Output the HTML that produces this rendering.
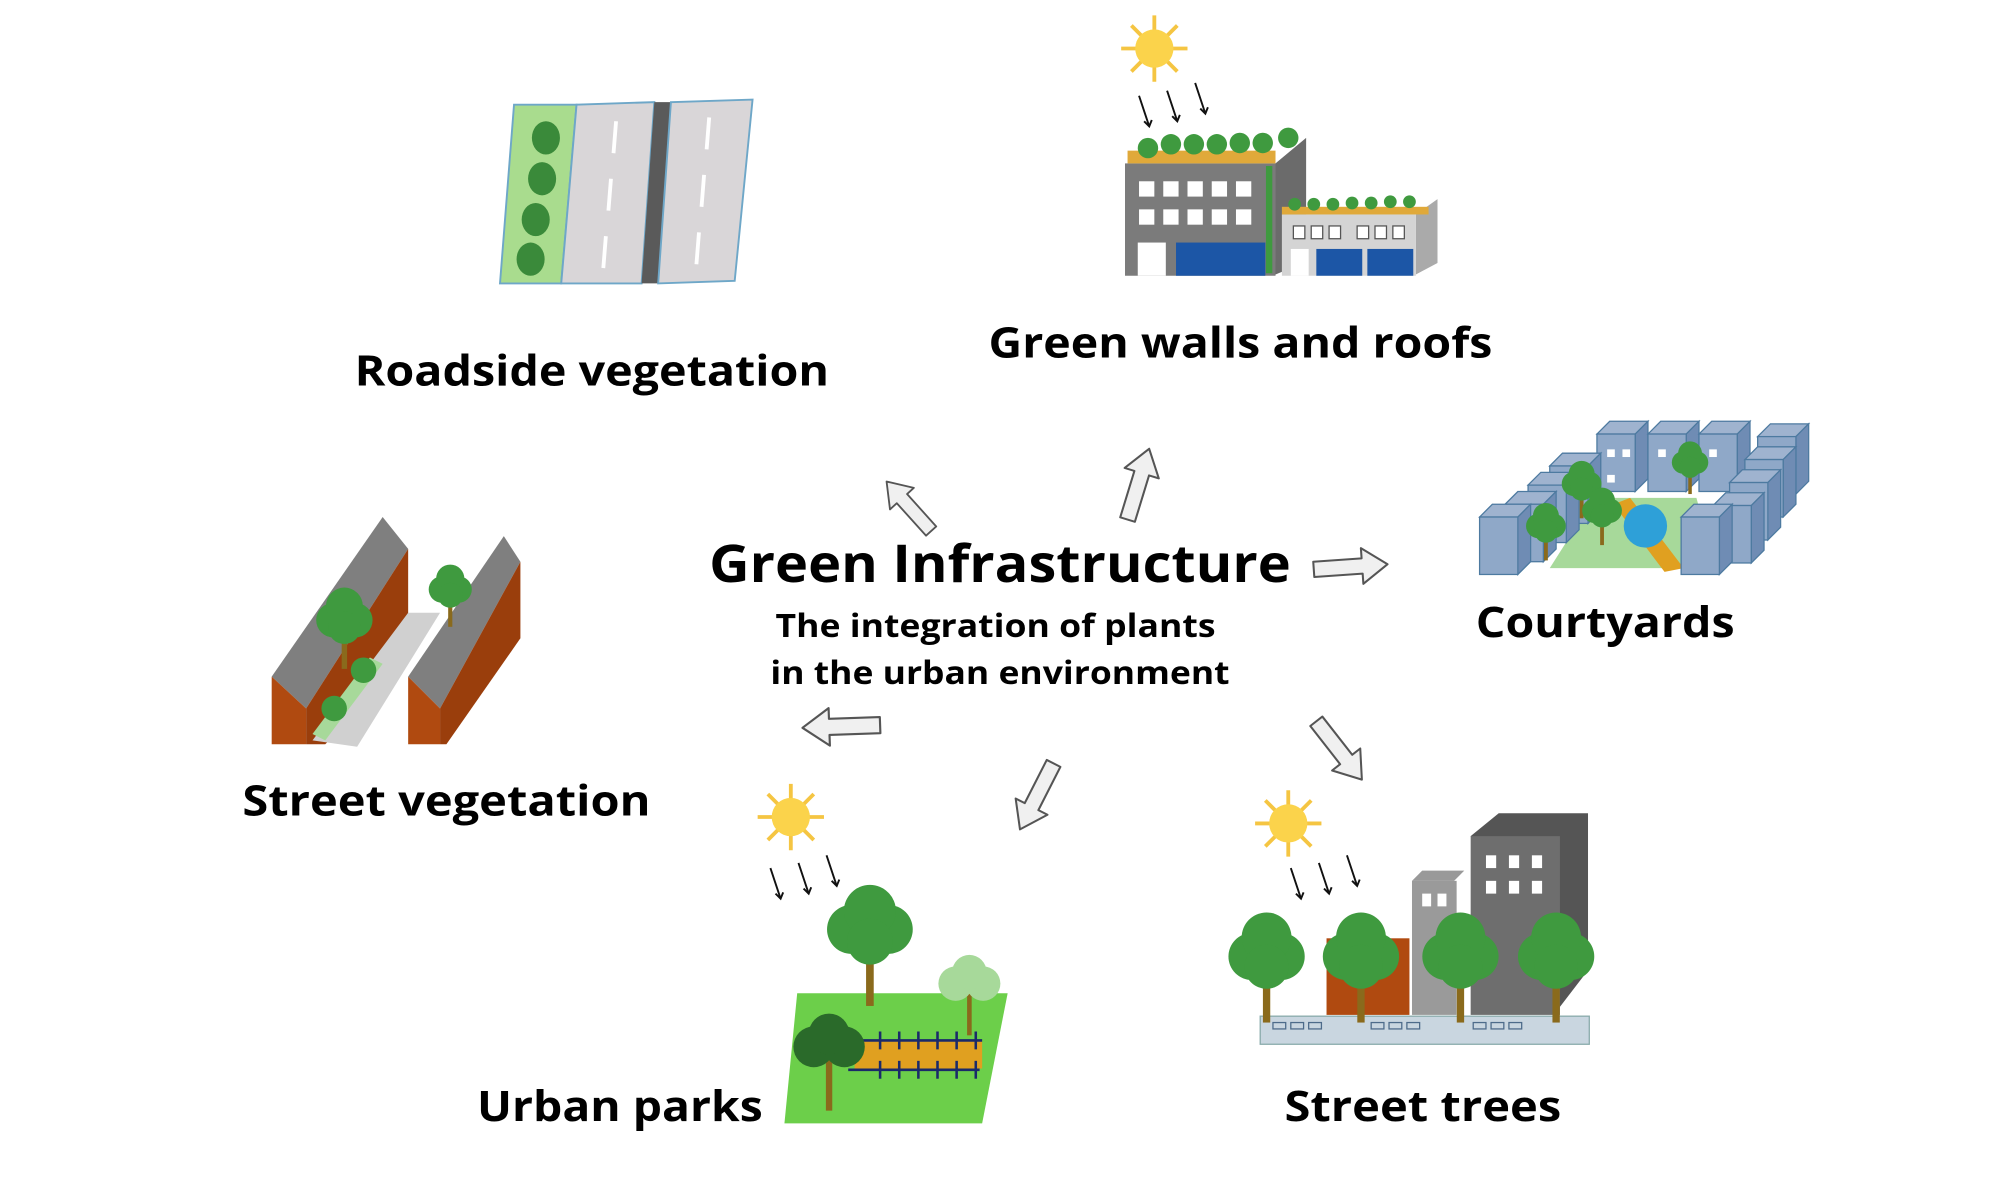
<!DOCTYPE html>
<html><head><meta charset="utf-8"><style>
html,body{margin:0;padding:0;background:#fff;width:2000px;height:1200px;overflow:hidden}
svg{display:block}
text{font-family:"Open Sans","DejaVu Sans","Liberation Sans",sans-serif;font-weight:bold;fill:#000}
</style></head><body>
<svg width="2000" height="1200" viewBox="0 0 1568 940" preserveAspectRatio="none" xmlns="http://www.w3.org/2000/svg">
<defs>
<g id="arr"><polygon points="0,-6 38,-6 38,-14 58,0 38,14 38,6 0,6" fill="#f0f0f0" stroke="#555" stroke-width="1.6" stroke-linejoin="round"/></g>
<g id="sun"><g stroke="#f5c542" stroke-width="3"><line x1="0" y1="-26" x2="0" y2="26"/><line x1="-26" y1="0" x2="26" y2="0"/><line x1="-18" y1="-18" x2="18" y2="18"/><line x1="-18" y1="18" x2="18" y2="-18"/></g><circle r="15" fill="#fbd34b"/></g>
<g id="rays" stroke="#111" stroke-width="1.5" fill="none"><line x1="0" y1="0" x2="8" y2="24"/><polyline points="4,20 8,24 10,19"/><line x1="22" y1="-4" x2="30" y2="20"/><polyline points="26,16 30,20 32,15"/><line x1="44" y1="-10" x2="52" y2="14"/><polyline points="48,10 52,14 54,9"/></g>
<g id="tree"><rect x="-2.5" y="0" width="5" height="40" fill="#8a6a1c"/><circle cx="-10" cy="-5" r="16" fill="#3f9a3f"/><circle cx="10" cy="-5" r="16" fill="#3f9a3f"/><circle cx="0" cy="-18" r="17" fill="#3f9a3f"/><circle cx="0" cy="2" r="15" fill="#3f9a3f"/></g>
<g id="blk"><polygon points="0,10 10,0 40,0 30,10" fill="#9fb3cf" stroke="#4d7aa0" stroke-width="1"/><polygon points="30,10 40,0 40,45 30,55" fill="#6f8cb4" stroke="#4d7aa0" stroke-width="1"/><rect x="0" y="10" width="30" height="45" fill="#8fa8c8" stroke="#4d7aa0" stroke-width="1"/></g>
</defs>

<!-- Roadside vegetation -->
<polygon points="392,222 403,82 452,82 440,222" fill="#a9dc8e" stroke="#6ea7c8" stroke-width="1.5"/>
<polygon points="440,222 452,82 513,80 503,222" fill="#d9d6d8" stroke="#6ea7c8" stroke-width="1.5"/>
<polygon points="503,222 513,80 526,80 516,222" fill="#5a5a5a"/>
<polygon points="516,222 526,80 590,78 576,220" fill="#d9d6d8" stroke="#6ea7c8" stroke-width="1.5"/>
<g fill="#3a8a3a"><ellipse cx="428" cy="108" rx="11" ry="13"/><ellipse cx="425" cy="140" rx="11" ry="13"/><ellipse cx="420" cy="172" rx="11" ry="13"/><ellipse cx="416" cy="203" rx="11" ry="13"/></g>
<g stroke="#fff" stroke-width="3"><line x1="483" y1="95" x2="481" y2="120"/><line x1="479" y1="140" x2="477" y2="165"/><line x1="475" y1="185" x2="473" y2="210"/><line x1="556" y1="92" x2="554" y2="117"/><line x1="552" y1="137" x2="550" y2="162"/><line x1="548" y1="182" x2="546" y2="207"/></g>

<!-- Green walls and roofs -->
<use href="#sun" x="905" y="38"/>
<use href="#rays" x="893" y="75"/>
<polygon points="1000,128 1024,108 1024,205 1000,215" fill="#6b6b6b"/>
<rect x="882" y="128" width="118" height="88" fill="#7b7b7b"/>
<rect x="884" y="118" width="116" height="10" fill="#e0a93a"/>
<g fill="#3f9a3f"><circle cx="900" cy="116" r="8"/><circle cx="918" cy="113" r="8"/><circle cx="936" cy="113" r="8"/><circle cx="954" cy="113" r="8"/><circle cx="972" cy="112" r="8"/><circle cx="990" cy="112" r="8"/><circle cx="1010" cy="108" r="8"/></g>
<g fill="#fff"><rect x="893" y="142" width="12" height="12"/><rect x="912" y="142" width="12" height="12"/><rect x="931" y="142" width="12" height="12"/><rect x="950" y="142" width="12" height="12"/><rect x="969" y="142" width="12" height="12"/><rect x="893" y="164" width="12" height="12"/><rect x="912" y="164" width="12" height="12"/><rect x="931" y="164" width="12" height="12"/><rect x="950" y="164" width="12" height="12"/><rect x="969" y="164" width="12" height="12"/><rect x="892" y="190" width="22" height="26"/></g>
<rect x="922" y="190" width="70" height="26" fill="#1c56a6"/>
<line x1="995" y1="130" x2="995" y2="214" stroke="#3f9a3f" stroke-width="5"/>
<polygon points="1110,168 1127,156 1127,206 1110,215" fill="#aaa"/>
<rect x="1005" y="168" width="105" height="48" fill="#d4d4d4"/>
<rect x="1005" y="162" width="115" height="6" fill="#e0a93a"/>
<g fill="#3f9a3f"><circle cx="1015" cy="160" r="5"/><circle cx="1030" cy="160" r="5"/><circle cx="1045" cy="160" r="5"/><circle cx="1060" cy="159" r="5"/><circle cx="1075" cy="159" r="5"/><circle cx="1090" cy="158" r="5"/><circle cx="1105" cy="158" r="5"/></g>
<g fill="#fff" stroke="#555" stroke-width="1"><rect x="1014" y="177" width="9" height="10"/><rect x="1028" y="177" width="9" height="10"/><rect x="1042" y="177" width="9" height="10"/><rect x="1064" y="177" width="9" height="10"/><rect x="1078" y="177" width="9" height="10"/><rect x="1092" y="177" width="9" height="10"/></g>
<rect x="1012" y="195" width="14" height="21" fill="#fff"/>
<rect x="1032" y="195" width="36" height="21" fill="#1c56a6"/><rect x="1072" y="195" width="36" height="21" fill="#1c56a6"/>

<!-- Courtyards -->
<polygon points="1215,445 1250,390 1330,390 1345,445" fill="#a7d99a"/>
<polygon points="1265,395 1278,390 1320,445 1305,448" fill="#e0a020"/>
<circle cx="1290" cy="412" r="17" fill="#2ea0d8"/>
<use href="#blk" x="1252" y="330"/><use href="#blk" x="1292" y="330"/><use href="#blk" x="1332" y="330"/>
<use href="#blk" x="1378" y="332"/><use href="#blk" x="1368" y="350"/><use href="#blk" x="1356" y="368"/>
<use href="#blk" x="1343" y="386"/><use href="#blk" x="1318" y="395"/>
<use href="#blk" x="1215" y="355"/><use href="#blk" x="1198" y="370"/><use href="#blk" x="1180" y="385"/><use href="#blk" x="1160" y="395"/>
<g fill="#fff"><rect x="1260" y="352" width="6" height="6"/><rect x="1272" y="352" width="6" height="6"/><rect x="1260" y="372" width="6" height="6"/><rect x="1300" y="352" width="6" height="6"/><rect x="1340" y="352" width="6" height="6"/></g>
<g transform="translate(1212,415) scale(0.6)"><use href="#tree"/></g>
<g transform="translate(1240,382) scale(0.6)"><use href="#tree"/></g>
<g transform="translate(1256,403) scale(0.6)"><use href="#tree"/></g>
<g transform="translate(1325,365) scale(0.55)"><use href="#tree"/></g>

<!-- Street vegetation -->
<polygon points="213,530 300,405 320,430 240,555" fill="#7f7f7f"/>
<polygon points="213,530 240,555 240,583 213,583" fill="#b04a10"/>
<polygon points="240,555 320,430 320,520 255,583 240,583" fill="#9a3e0c"/>
<polygon points="320,530 395,420 408,440 345,555" fill="#7f7f7f"/>
<polygon points="320,530 345,555 345,583 320,583" fill="#b04a10"/>
<polygon points="345,555 408,440 408,500 350,583 345,583" fill="#9a3e0c"/>
<polygon points="245,580 320,480 345,480 280,585" fill="#d0d0d0"/>
<polygon points="245,575 290,515 300,520 255,580" fill="#a7d99a"/>
<g transform="translate(270,490) scale(0.85)"><use href="#tree"/></g>
<g transform="translate(353,465) scale(0.65)"><use href="#tree"/></g>
<circle cx="285" cy="525" r="10" fill="#3f9a3f"/><circle cx="262" cy="555" r="10" fill="#3f9a3f"/>

<!-- Urban parks -->
<use href="#sun" x="620" y="640"/>
<use href="#rays" x="604" y="680"/>
<polygon points="625,778 790,778 770,880 615,880" fill="#6ccf4a"/>
<rect x="670" y="815" width="100" height="22" fill="#e0a020"/>
<g stroke="#1a2a6a" stroke-width="2"><line x1="670" y1="815" x2="770" y2="815"/><line x1="665" y1="838" x2="768" y2="838"/>
<line x1="690" y1="808" x2="690" y2="822"/><line x1="705" y1="808" x2="705" y2="822"/><line x1="720" y1="808" x2="720" y2="822"/><line x1="735" y1="808" x2="735" y2="822"/><line x1="750" y1="808" x2="750" y2="822"/><line x1="765" y1="808" x2="765" y2="822"/>
<line x1="690" y1="831" x2="690" y2="845"/><line x1="705" y1="831" x2="705" y2="845"/><line x1="720" y1="831" x2="720" y2="845"/><line x1="735" y1="831" x2="735" y2="845"/><line x1="750" y1="831" x2="750" y2="845"/><line x1="765" y1="831" x2="765" y2="845"/></g>
<g transform="translate(682,740) scale(1.2)"><rect x="-2.5" y="0" width="5" height="40" fill="#8a6a1c"/><circle cx="-12" cy="-10" r="16" fill="#3f9a3f"/><circle cx="12" cy="-10" r="16" fill="#3f9a3f"/><circle cx="0" cy="-22" r="17" fill="#3f9a3f"/><circle cx="0" cy="-2" r="15" fill="#3f9a3f"/></g>
<g transform="translate(760,775) scale(0.9)"><rect x="-2" y="0" width="4" height="40" fill="#8a6a1c"/><circle cx="-12" cy="-5" r="15" fill="#a7d99a"/><circle cx="12" cy="-5" r="15" fill="#a7d99a"/><circle cx="0" cy="-15" r="15" fill="#a7d99a"/></g>
<g transform="translate(650,825) scale(1)"><rect x="-2.5" y="0" width="5" height="45" fill="#8a6a1c"/><circle cx="-12" cy="-5" r="16" fill="#2a6a2a"/><circle cx="12" cy="-5" r="16" fill="#2a6a2a"/><circle cx="0" cy="-15" r="16" fill="#2a6a2a"/></g>

<!-- Street trees -->
<use href="#sun" x="1010" y="645"/>
<use href="#rays" x="1012" y="680"/>
<polygon points="1153,655 1175,637 1245,637 1245,760 1222,790" fill="#555"/>
<rect x="1153" y="655" width="70" height="140" fill="#6e6e6e"/>
<polygon points="1107,690 1115,682 1148,682 1140,690" fill="#999"/>
<rect x="1107" y="690" width="35" height="105" fill="#9a9a9a"/>
<rect x="1040" y="735" width="65" height="60" fill="#b04a10"/>
<g fill="#fff"><rect x="1165" y="670" width="8" height="10"/><rect x="1183" y="670" width="8" height="10"/><rect x="1201" y="670" width="8" height="10"/><rect x="1165" y="690" width="8" height="10"/><rect x="1183" y="690" width="8" height="10"/><rect x="1201" y="690" width="8" height="10"/><rect x="1115" y="700" width="7" height="10"/><rect x="1127" y="700" width="7" height="10"/></g>
<rect x="988" y="796" width="258" height="22" fill="#c9d6e0" stroke="#8aa" stroke-width="1"/>
<g fill="none" stroke="#4d6b8a" stroke-width="1"><rect x="998" y="801" width="10" height="5"/><rect x="1012" y="801" width="10" height="5"/><rect x="1026" y="801" width="10" height="5"/><rect x="1075" y="801" width="10" height="5"/><rect x="1089" y="801" width="10" height="5"/><rect x="1103" y="801" width="10" height="5"/><rect x="1155" y="801" width="10" height="5"/><rect x="1169" y="801" width="10" height="5"/><rect x="1183" y="801" width="10" height="5"/></g>
<g transform="translate(993,755) scale(1.15)"><use href="#tree"/></g>
<g transform="translate(1067,755) scale(1.15)"><use href="#tree"/></g>
<g transform="translate(1145,755) scale(1.15)"><use href="#tree"/></g>
<g transform="translate(1220,755) scale(1.15)"><use href="#tree"/></g>

<!-- Arrows -->
<use href="#arr" transform="translate(730,416) rotate(-132) scale(0.9)"/>
<use href="#arr" transform="translate(884,407) rotate(-73) scale(1)"/>
<use href="#arr" transform="translate(1030,446) rotate(-4) scale(1)"/>
<use href="#arr" transform="translate(1032,565) rotate(52) scale(1)"/>
<use href="#arr" transform="translate(826,598) rotate(117) scale(1)"/>
<use href="#arr" transform="translate(690,568) rotate(178) scale(1.05)"/>

<!-- Labels -->
<text x="278" y="302" font-size="33" textLength="372" lengthAdjust="spacingAndGlyphs">Roadside vegetation</text>
<text x="775" y="280" font-size="33" textLength="395" lengthAdjust="spacingAndGlyphs">Green walls and roofs</text>
<text x="556" y="456" font-size="41" textLength="456" lengthAdjust="spacingAndGlyphs">Green Infrastructure</text>
<text x="608" y="499" font-size="25" textLength="345" lengthAdjust="spacingAndGlyphs">The integration of plants</text>
<text x="604" y="536" font-size="25" textLength="360" lengthAdjust="spacingAndGlyphs">in the urban environment</text>
<text x="1157" y="499" font-size="33" textLength="203" lengthAdjust="spacingAndGlyphs">Courtyards</text>
<text x="190" y="639" font-size="33" textLength="320" lengthAdjust="spacingAndGlyphs">Street vegetation</text>
<text x="374" y="878" font-size="33" textLength="224" lengthAdjust="spacingAndGlyphs">Urban parks</text>
<text x="1007" y="878" font-size="33" textLength="217" lengthAdjust="spacingAndGlyphs">Street trees</text>
</svg>
</body></html>
